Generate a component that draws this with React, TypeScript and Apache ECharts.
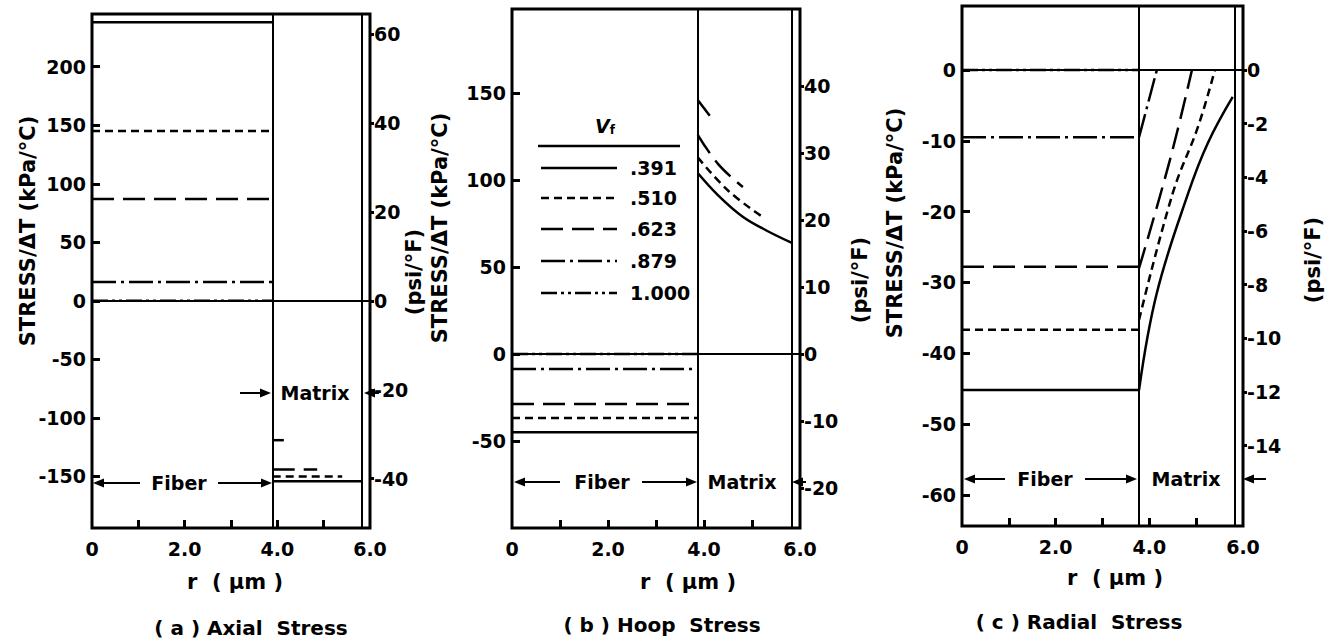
import React, { useEffect, useRef } from "react";
import * as echarts from "echarts";

// ---------- data ----------
const vfLabels = [".391", ".510", ".623", ".879", "1.000"];
const panelTitles = ["( a ) Axial  Stress", "( b ) Hoop  Stress", "( c ) Radial  Stress"];
const boundaryR = [3.9, 3.87, 3.78]; // fiber / matrix interface as drawn in each panel
const outerR = 5.82; // outer matrix radius line

const axialFiber = [238, 145, 87, 16, 0];
const axialMatrix: number[][][] = [
  [[3.9, -154], [5.82, -154]],
  [[3.9, -150], [5.4, -150]],
  [[3.9, -144], [4.86, -144]],
  [[3.9, -119], [4.14, -119]],
  [],
];
const hoopFiber = [-45, -36.8, -28.7, -8.6, 0];
const hoopMatrix: number[][][] = [
  [[3.87, 104], [4.3, 91], [4.8, 79], [5.3, 71], [5.82, 64]],
  [[3.87, 113], [4.5, 94], [5.21, 79]],
  [[3.87, 126], [4.3, 109], [4.81, 96]],
  [[3.87, 146], [4.12, 137]],
  [],
];
const radialFiber = [-45.2, -36.7, -27.8, -9.5, 0];
const radialMatrix: number[][][] = [
  [[3.78, -45.2], [4.16, -31.5], [4.83, -17.4], [5.25, -10.3], [5.78, -3.8]],
  [[3.78, -35.3], [4.5, -17.4], [5.04, -8], [5.4, 0]],
  [[3.78, -28], [4.44, -12.7], [4.91, 0]],
  [[3.78, -9.5], [4.16, 0]],
  [],
];

const xLabelValues = [0, 2, 4, 6];
const xTickValues = [1, 2, 3, 4, 5];
const leftTicks = [
  [200, 150, 100, 50, 0, -50, -100, -150],
  [150, 100, 50, 0, -50],
  [0, -10, -20, -30, -40, -50, -60],
];
const rightTicks = [
  [60, 40, 20, 0, -20, -40],
  [40, 30, 20, 10, 0, -10, -20],
  [0, -2, -4, -6, -8, -10, -12, -14],
];

// ---------- layout / style ----------
const FONT = "DejaVu Sans";
const grids = [
  { left: 92, top: 14, width: 278, height: 514 },
  { left: 512, top: 9, width: 288, height: 519 },
  { left: 962, top: 6, width: 281, height: 520 },
];
const leftRange = [
  [-194, 245],
  [-100, 198.3],
  [-64.4, 9.04],
];
const rightRange = [
  [-51.1, 64.6],
  [-26, 51.5],
  [-17, 2.39],
];
const dashes: (number[] | null)[] = [null, [8, 5], [22, 9], [24, 5, 3, 5], [16, 4, 3, 4, 3, 4]];

const fibers = [axialFiber, hoopFiber, radialFiber];
const matrices = [axialMatrix, hoopMatrix, radialMatrix];

function txt(x: number, y: number, text: string, size = 17, extra: any = {}) {
  return {
    type: "text",
    x,
    y,
    silent: true,
    style: {
      text,
      fontSize: size,
      fontWeight: "bold",
      fontFamily: FONT,
      fill: "#000",
      align: "center",
      verticalAlign: "middle",
      ...(extra.style || {}),
    },
    ...(extra.rotation !== undefined ? { rotation: extra.rotation } : {}),
  };
}

function arrow(x1: number, x2: number, y: number) {
  const d = Math.sign(x2 - x1);
  return [
    { type: "line", silent: true, shape: { x1, y1: y, x2: x2 - d * 6, y2: y }, style: { stroke: "#000", lineWidth: 2 } },
    {
      type: "polygon",
      silent: true,
      shape: { points: [[x2, y], [x2 - d * 11, y - 4.5], [x2 - d * 11, y + 4.5]] },
      style: { fill: "#000" },
    },
  ];
}

function buildOption() {
  const xAxis: any[] = [];
  const yAxis: any[] = [];
  const series: any[] = [];
  const axisLabelBase = { fontSize: 19, fontWeight: "bold", fontFamily: FONT, color: "#000" };

  for (let p = 0; p < 3; p++) {
    xAxis.push({
      type: "value",
      gridIndex: p,
      min: 0,
      max: 6,
      position: "bottom",
      axisLine: { show: false, onZero: false },
      splitLine: { show: false },
      axisTick: { show: true, inside: true, length: 8, customValues: xTickValues, lineStyle: { color: "#000", width: 3 } },
      axisLabel: {
        ...axisLabelBase,
        margin: 11,
        customValues: xLabelValues,
        formatter: (v: number) => (v === 0 ? "0" : v.toFixed(1)),
      },
    });
    yAxis.push({
      type: "value",
      gridIndex: p,
      position: "left",
      min: leftRange[p][0],
      max: leftRange[p][1],
      axisLine: { show: false, onZero: false },
      splitLine: { show: false },
      axisTick: { show: true, inside: true, length: 8, customValues: leftTicks[p], lineStyle: { color: "#000", width: 3 } },
      axisLabel: { ...axisLabelBase, margin: 6, customValues: leftTicks[p] },
    });
    yAxis.push({
      type: "value",
      gridIndex: p,
      position: "right",
      min: rightRange[p][0],
      max: rightRange[p][1],
      axisLine: { show: false, onZero: false },
      splitLine: { show: false },
      axisTick: { show: true, inside: false, length: 4, customValues: rightTicks[p], lineStyle: { color: "#000", width: 3 } },
      axisLabel: { ...axisLabelBase, margin: 4, customValues: rightTicks[p] },
    });

    // structural lines: zero line, interface, outer radius
    series.push({
      type: "line",
      xAxisIndex: p,
      yAxisIndex: 2 * p,
      data: [[0, 0]],
      showSymbol: false,
      silent: true,
      markLine: {
        silent: true,
        symbol: ["none", "none"],
        label: { show: false },
        lineStyle: { color: "#000", width: 2, type: "solid" },
        data: [{ yAxis: 0 }, { xAxis: boundaryR[p] }, { xAxis: outerR }],
      },
    });
    // right axis carrier
    series.push({ type: "line", xAxisIndex: p, yAxisIndex: 2 * p + 1, data: [], silent: true });

    for (let i = 0; i < vfLabels.length; i++) {
      const lineStyle = { color: "#000", width: 2.5, type: dashes[i] ? dashes[i] : "solid" };
      series.push({
        name: vfLabels[i],
        type: "line",
        xAxisIndex: p,
        yAxisIndex: 2 * p,
        data: [
          [0, fibers[p][i]],
          [boundaryR[p], fibers[p][i]],
        ],
        showSymbol: false,
        silent: true,
        lineStyle,
      });
      const m = matrices[p][i];
      if (m.length) {
        series.push({
          name: vfLabels[i],
          type: "line",
          xAxisIndex: p,
          yAxisIndex: 2 * p,
          data: m,
          smooth: m.length > 2 ? 0.4 : false,
          showSymbol: false,
          silent: true,
          lineStyle,
        });
      }
    }
  }

  // ---------- annotations ----------
  const g: any[] = [];
  const leftNameX = [28, 440, 895];
  const leftNameY = [231, 228, 223];
  const rightNameX = [414, 860, 1313];
  const rightNameY = [272, 280, 260];
  for (let p = 0; p < 3; p++) {
    g.push(txt(leftNameX[p], leftNameY[p], "STRESS/ΔT (kPa/°C)", 21, { rotation: Math.PI / 2 }));
    g.push(txt(rightNameX[p], rightNameY[p], "(psi/°F)", 21, { rotation: Math.PI / 2 }));
  }
  const xNameX = [235, 688, 1115];
  const xNameY = [582, 582, 578];
  const titleX = [251, 662, 1079];
  const titleY = [628, 625, 622];
  for (let p = 0; p < 3; p++) {
    g.push(txt(xNameX[p], xNameY[p], "r  ( μm )", 21));
    g.push(txt(titleX[p], titleY[p], panelTitles[p], 20));
  }
  g.push(txt(179, 483, "Fiber", 19), ...arrow(140, 93, 483), ...arrow(218, 272, 483));
  g.push(txt(315, 393, "Matrix", 19), ...arrow(240, 271, 393), ...arrow(379, 364, 393));
  g.push(txt(602, 482, "Fiber", 19), ...arrow(560, 514, 482), ...arrow(642, 697, 482));
  g.push(txt(742, 482, "Matrix", 19), ...arrow(806, 792, 482));
  g.push(txt(1045, 479, "Fiber", 19), ...arrow(1005, 964, 479), ...arrow(1085, 1137, 479));
  g.push(txt(1186, 479, "Matrix", 19), ...arrow(1266, 1243, 479));

  // legend (panel b)
  g.push({
    type: "text",
    x: 605,
    y: 126,
    silent: true,
    style: {
      text: "{v|V}{f|f}",
      align: "center",
      verticalAlign: "middle",
      rich: {
        v: { fontSize: 19, fontWeight: "bold", fontFamily: FONT, fill: "#000", fontStyle: "italic" },
        f: { fontSize: 12, fontWeight: "bold", fontFamily: FONT, fill: "#000", verticalAlign: "bottom", padding: [8, 0, 0, 0] },
      },
    },
  });
  g.push({ type: "line", silent: true, shape: { x1: 538, y1: 146, x2: 680, y2: 146 }, style: { stroke: "#000", lineWidth: 2.5 } });
  const legY = [168, 198, 229, 261, 293];
  for (let i = 0; i < vfLabels.length; i++) {
    g.push({
      type: "line",
      silent: true,
      shape: { x1: 541, y1: legY[i], x2: 617, y2: legY[i] },
      style: { stroke: "#000", lineWidth: 2.5, lineDash: dashes[i] || undefined },
    });
    g.push(txt(630, legY[i], vfLabels[i], 19, { style: { align: "left" } }));
  }

  return {
    animation: false,
    backgroundColor: "#fff",
    grid: grids.map((gr) => ({ ...gr, show: true, borderColor: "#000", borderWidth: 3, backgroundColor: "transparent" })),
    xAxis,
    yAxis,
    series,
    graphic: g,
  };
}

export default function App() {
  const ref = useRef<HTMLDivElement>(null);
  useEffect(() => {
    if (!ref.current) return;
    const chart = echarts.init(ref.current, null, { renderer: "svg" });
    chart.setOption(buildOption() as any);
    return () => chart.dispose();
  }, []);
  return (
    <div
      ref={ref}
      style={{ position: "fixed", left: 0, top: 0, width: 1328, height: 644, background: "#fff" }}
    />
  );
}
